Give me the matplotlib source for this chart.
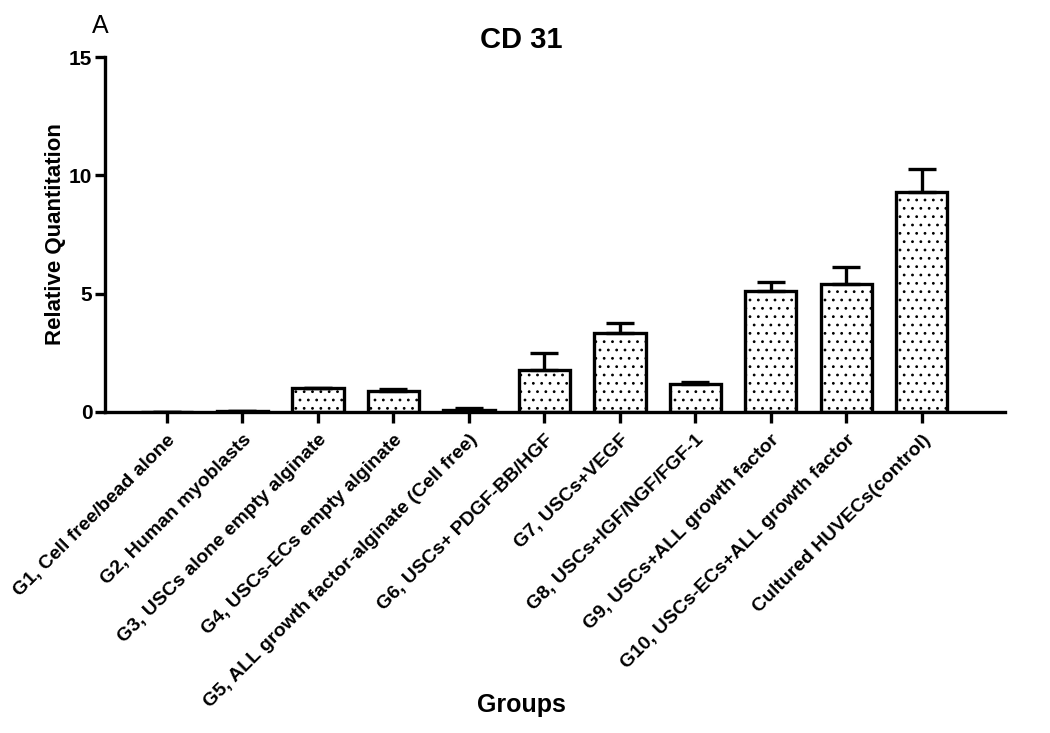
import matplotlib
matplotlib.use('Agg')
import matplotlib.pyplot as plt
import numpy as np

plt.rcParams['font.family'] = ['Liberation Sans', 'DejaVu Sans']
plt.rcParams['hatch.linewidth'] = 0.8

# 数据
groups = ['G1, Cell free/bead alone', 'G2, Human myoblasts',
          'G3, USCs alone empty alginate', 'G4, USCs-ECs empty alginate',
          'G5, ALL growth factor-alginate (Cell free)', 'G6, USCs+ PDGF-BB/HGF',
          'G7, USCs+VEGF', 'G8, USCs+IGF/NGF/FGF-1', 'G9, USCs+ALL growth factor',
          'G10, USCs-ECs+ALL growth factor', 'Cultured HUVECs(control)']
values = [0.0, 0.03, 1.0, 0.9, 0.08, 1.77, 3.35, 1.18, 5.12, 5.41, 9.29]
errors = [0.0, 0.03, 0.0, 0.05, 0.08, 0.73, 0.41, 0.07, 0.36, 0.71, 0.98]

fig = plt.figure(figsize=(10.5, 7.33), dpi=100)
ax = fig.add_axes([0.1, 0.438, 0.857, 0.484])

index = np.arange(len(groups))
ax.bar(index, values, 0.68, color='white', edgecolor='black', linewidth=2.4,
       hatch='..', zorder=2)
ax.errorbar(index, values, yerr=[np.zeros(len(errors)), errors], fmt='none',
            ecolor='black', elinewidth=2.4, capsize=10, capthick=2.4, zorder=3)

ax.set_xlim(-0.82, 11.1)
ax.set_ylim(0, 15)
ax.set_yticks([0, 5, 10, 15])
ax.set_yticklabels(['0', '5', '10', '15'], fontsize=15, fontweight='bold')
ax.set_xticks(index)
ax.set_xticklabels(groups, rotation=45, ha='right', rotation_mode='anchor',
                   fontsize=14, fontweight='bold')
ax.tick_params(axis='x', length=8, width=2.4, pad=6)
ax.tick_params(axis='y', length=7, width=2.4, pad=2)
for s in ['top', 'right']:
    ax.spines[s].set_visible(False)
for s in ['left', 'bottom']:
    ax.spines[s].set_linewidth(2.4)

ax.set_ylabel('Relative Quantitation', fontsize=16, fontweight='bold')
ax.yaxis.set_label_coords(-0.043, 0.5)
fig.text(0.496, 0.945, 'CD 31', fontsize=21, fontweight='bold', ha='center', va='center')
fig.text(0.497, 0.028, 'Groups', fontsize=18, fontweight='bold', ha='center')
fig.text(0.088, 0.955, 'A', fontsize=18)

plt.savefig('out.png', dpi=100)
